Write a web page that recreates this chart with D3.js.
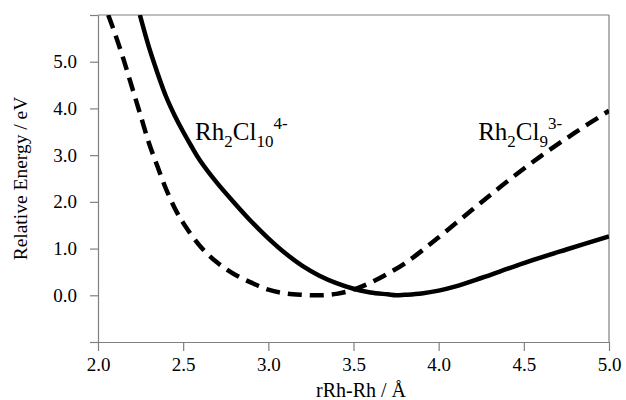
<!DOCTYPE html>
<html>
<head>
<meta charset="utf-8">
<script src="https://cdn.jsdelivr.net/npm/d3@7"></script>
<style>
  html, body { margin: 0; padding: 0; background: #fff; }
  svg { display: block; }
</style>
</head>
<body>
<svg id="chart" width="626" height="400" font-family="Liberation Serif, DejaVu Serif, serif"></svg>
<script>
// Rh2Cl9^3- (dashed)
const dashedX = [2.06, 2.10, 2.15, 2.20, 2.25, 2.30, 2.35, 2.40, 2.45, 2.50, 2.60, 2.70, 2.80, 2.90, 3.00, 3.10, 3.20, 3.30, 3.40, 3.50, 3.60, 3.70, 3.80, 3.90, 4.00, 4.20, 4.40, 4.60, 4.80, 5.00];
const dashedY = [6.00, 5.60, 5.05, 4.45, 3.85, 3.25, 2.75, 2.27, 1.87, 1.55, 1.05, 0.70, 0.45, 0.27, 0.12, 0.04, 0.01, 0.00, 0.03, 0.12, 0.27, 0.46, 0.68, 0.95, 1.24, 1.84, 2.43, 2.98, 3.48, 3.95];
// Rh2Cl10^4- (solid)
const solidX = [2.246, 2.30, 2.35, 2.40, 2.45, 2.50, 2.55, 2.60, 2.70, 2.80, 2.90, 3.00, 3.10, 3.20, 3.30, 3.40, 3.50, 3.60, 3.70, 3.75, 3.80, 3.90, 4.00, 4.10, 4.25, 4.50, 4.75, 5.00];
const solidY = [6.00, 5.30, 4.75, 4.25, 3.85, 3.50, 3.18, 2.88, 2.40, 1.98, 1.58, 1.22, 0.90, 0.63, 0.42, 0.26, 0.14, 0.06, 0.02, 0.00, 0.01, 0.04, 0.10, 0.19, 0.37, 0.69, 0.98, 1.26];

const xTicks = [2.0, 2.5, 3.0, 3.5, 4.0, 4.5, 5.0];
const yTicks = [-1, 0, 1, 2, 3, 4, 5, 6];
const yLabelled = [0, 1, 2, 3, 4, 5];
const xDomain = [2.0, 5.0];
const yDomain = [-1, 6];
const xTitle = "rRh-Rh / Å";
const yTitle = "Relative Energy / eV";

const W = 626, H = 400;
const m = { left: 98, right: 17, top: 15, bottom: 58 };
const FONT = "Liberation Serif, DejaVu Serif, serif";
const svg = d3.select("#chart");

const x = d3.scaleLinear().domain(xDomain).range([m.left, W - m.right]);
const y = d3.scaleLinear().domain(yDomain).range([H - m.bottom, m.top]);

const axisColor = "#808080";
const axisW = 1.2;

// frame: top and right
svg.append("line").attr("x1", x(xDomain[0])).attr("x2", x(xDomain[1]))
  .attr("y1", y(yDomain[1])).attr("y2", y(yDomain[1]))
  .attr("stroke", axisColor).attr("stroke-width", axisW);
svg.append("line").attr("x1", x(xDomain[1])).attr("x2", x(xDomain[1]))
  .attr("y1", y(yDomain[0])).attr("y2", y(yDomain[1]))
  .attr("stroke", axisColor).attr("stroke-width", axisW);

// x axis
const gx = svg.append("g").attr("transform", `translate(0,${y(yDomain[0])})`)
  .call(d3.axisBottom(x).tickValues(xTicks).tickFormat(d3.format(".1f"))
    .tickSize(9).tickSizeOuter(0).tickPadding(7));
// y axis
const gy = svg.append("g").attr("transform", `translate(${x(xDomain[0])},0)`)
  .call(d3.axisLeft(y).tickValues(yTicks)
    .tickFormat(d => yLabelled.includes(d) ? d3.format(".1f")(d) : "")
    .tickSize(8).tickSizeOuter(0).tickPadding(13));

[gx, gy].forEach(g => {
  g.attr("font-family", FONT).attr("font-size", 19);
  g.selectAll("path, line").attr("stroke", axisColor).attr("stroke-width", axisW);
  g.selectAll("text").attr("fill", "#000").attr("font-family", FONT).attr("font-size", 19);
});

// curves
svg.append("clipPath").attr("id", "plotclip").append("rect")
  .attr("x", x(xDomain[0])).attr("y", y(yDomain[1]))
  .attr("width", x(xDomain[1]) - x(xDomain[0]))
  .attr("height", y(yDomain[0]) - y(yDomain[1]));

const line = d3.line().x(d => x(d[0])).y(d => y(d[1])).curve(d3.curveCatmullRom.alpha(0.5));
const dashedData = d3.zip(dashedX, dashedY);
const solidData = d3.zip(solidX, solidY);

const gc = svg.append("g").attr("clip-path", "url(#plotclip)");
gc.append("path").datum(solidData).attr("d", line)
  .attr("fill", "none").attr("stroke", "#000").attr("stroke-width", 4.5);
gc.append("path").datum(dashedData).attr("d", line)
  .attr("fill", "none").attr("stroke", "#000").attr("stroke-width", 4.5)
  .attr("stroke-dasharray", "14,8");

// curve labels
function chemLabel(px, py, parts) {
  const t = svg.append("text").attr("x", px).attr("y", py)
    .attr("font-family", FONT).attr("font-size", 25).attr("fill", "#000");
  let shift = 0;
  parts.forEach(p => {
    const target = p.t === "sub" ? 7 : p.t === "sup" ? -11 : 0;
    t.append("tspan").attr("dy", target - shift)
      .attr("font-size", p.t === "n" ? 25 : 17).text(p.s);
    shift = target;
  });
}
chemLabel(x(2.57), y(3.33), [{t:"n",s:"Rh"},{t:"sub",s:"2"},{t:"n",s:"Cl"},{t:"sub",s:"10"},{t:"sup",s:"4-"}]);
chemLabel(x(4.232), y(3.33), [{t:"n",s:"Rh"},{t:"sub",s:"2"},{t:"n",s:"Cl"},{t:"sub",s:"9"},{t:"sup",s:"3-"}]);

// axis titles
svg.append("text").attr("x", 361).attr("y", 397).attr("text-anchor", "middle")
  .attr("font-family", FONT).attr("font-size", 20).attr("fill", "#000").text(xTitle);
svg.append("text").attr("transform", `translate(27,${(y(yDomain[0]) + y(yDomain[1])) / 2}) rotate(-90)`)
  .attr("text-anchor", "middle").attr("font-family", FONT).attr("font-size", 19.5)
  .attr("fill", "#000").text(yTitle);
</script>
</body>
</html>
